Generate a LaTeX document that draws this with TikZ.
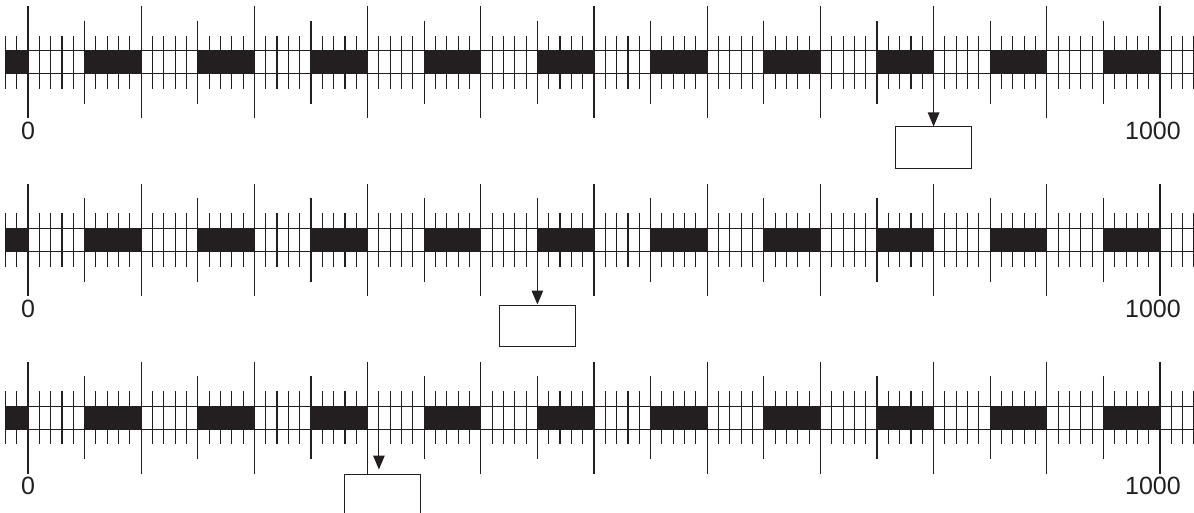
\documentclass[tikz,border=0pt]{standalone}
\usepackage{fontspec}
\setmainfont{Liberation Sans}
\usetikzlibrary{arrows.meta}
\definecolor{ink}{HTML}{231F20}
\tikzset{
  rulertick/.style={draw=ink,line width=1.1pt},
  bandline/.style={draw=ink,line width=1pt},
  blackblock/.style={fill=ink},
  readout/.style={draw=ink,line width=1pt,minimum width=76pt,minimum height=41.5pt,inner sep=0pt},
  numlabel/.style={font=\fontsize{25}{25}\selectfont,text=ink,inner sep=0pt},
  pointer/.style={draw=ink,line width=1.1pt,-{Triangle[length=14pt,width=11.5pt]}},
  rowscope/.style={shift={(28,#1)},x=1.132pt,y=-1pt}
}
\newcommand\rulerrow[2]{%
  \begin{scope}[rowscope=#1]
    \foreach \u in {-20,-10,...,1030} \draw[rulertick] (\u,-26.5) -- (\u,26.5);
    \foreach \u in {50,150,...,950} \draw[rulertick] (\u,-41.5) -- (\u,41.5);
    \foreach \u in {0,100,...,1000} \draw[rulertick] (\u,-56) -- (\u,56);
    \fill[blackblock] (-20,-11.5) rectangle (0,11.5);
    \foreach \a in {50,150,...,950} \fill[blackblock] (\a,-11.5) rectangle (\a+50,11.5);
    \draw[bandline] (-20,-11.5) -- (1045,-11.5);
    \draw[bandline] (-20,11.5) -- (1045,11.5);
    \draw[bandline] (-20,-11.5) -- (-20,11.5);
    \node[numlabel] (zero#2) at (0,68.5) {0};
    \node[numlabel] (thousand#2) at (993.8,68.5) {1000};
  \end{scope}}
\begin{document}
\begin{tikzpicture}[x=1pt,y=-1pt]
  \useasboundingbox (0,0) rectangle (1194,513);
  \clip (0,0) rectangle (1194,513);
  \rulerrow{62.5}{a}
  \rulerrow{240}{b}
  \rulerrow{417.5}{c}
  % row 1
  \begin{scope}[rowscope=62.5]
    \node[readout] (boxa) at (800,85.25) {};
    \coordinate (pa) at (800,40);
    \draw[pointer] (pa) -- (boxa.north);
  \end{scope}
  % row 2
  \begin{scope}[rowscope=240]
    \node[readout] (boxb) at (450,85.75) {};
    \coordinate (pb) at (450,30);
    \draw[pointer] (pb) -- (boxb.north);
  \end{scope}
  % row 3
  \begin{scope}[rowscope=417.5]
    \node[readout] (boxc) at (312.9,77.25) {};
    \coordinate (pc) at (310,26.5);
    \draw[pointer,shorten >=4pt] (pc) -- (pc |- boxc.north);
  \end{scope}
\end{tikzpicture}
\end{document}
